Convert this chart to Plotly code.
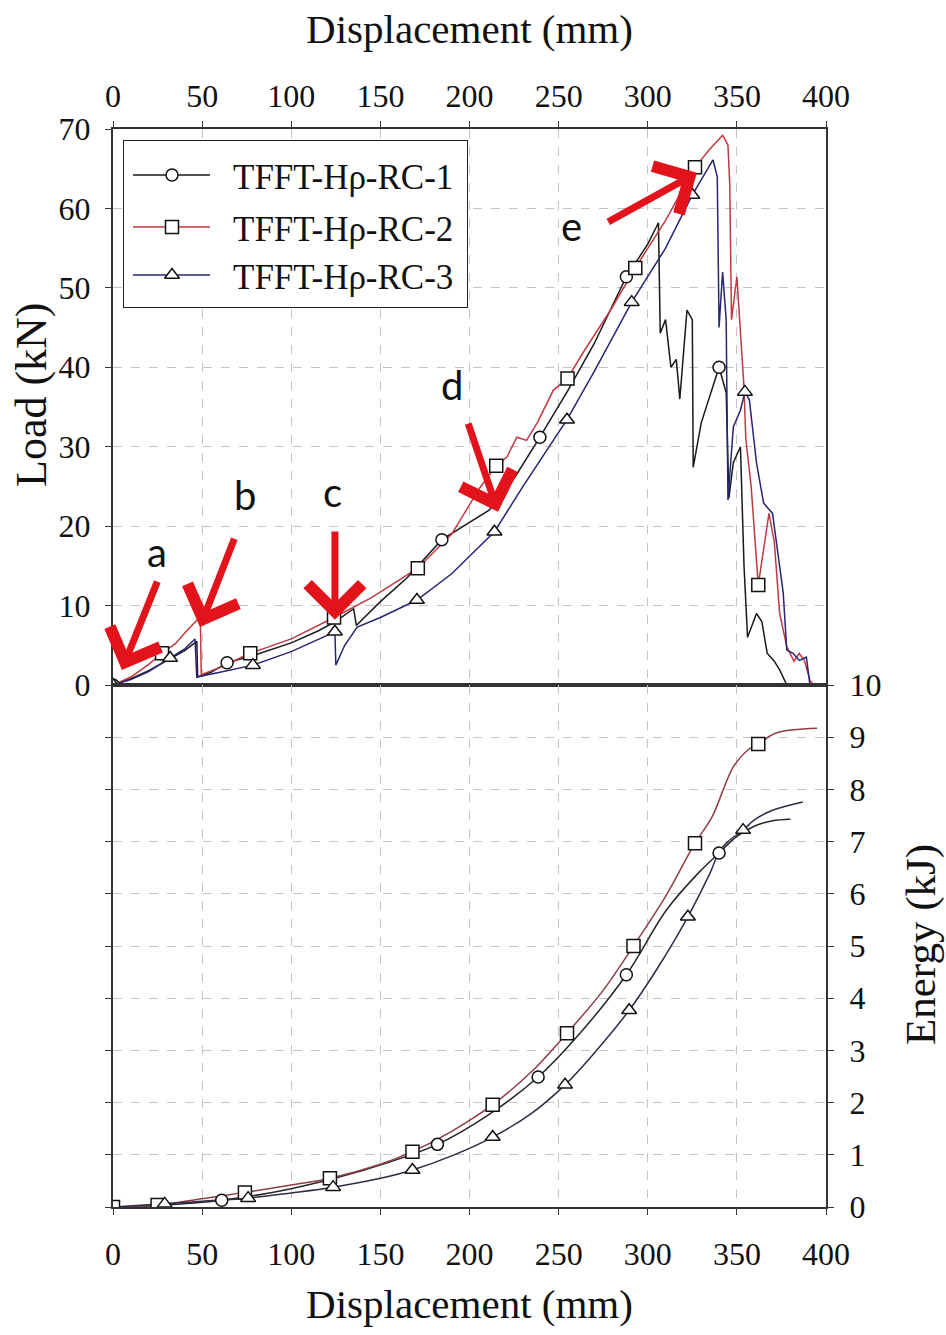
import plotly.graph_objects as go

# ---------------- Load–displacement curves (kN vs mm) ----------------
rc1_load_x = [0, 10, 20, 30, 40, 47, 47.5, 55, 64, 80, 100, 115, 125, 135, 136.5, 150, 165,
              184.5, 196, 211, 225, 239.5, 255, 270, 288, 300, 306, 307, 310, 313, 316, 318,
              322, 325, 325.5, 330, 340, 344, 345.5, 348, 352, 354, 356, 361, 364, 367, 371,
              374, 378]
rc1_load_y = [0, 0.8, 1.8, 3.0, 4.3, 5.5, 1.0, 1.6, 2.8, 3.8, 5.3, 6.8, 8.0, 9.6, 7.5, 10.5,
              13.5, 18.3, 19.9, 22.0, 26.0, 31.2, 37.0, 43.0, 51.4, 55.5, 58.2, 44.3, 46.0,
              40.0, 41.0, 36.0, 47.2, 46.0, 27.4, 33.0, 40.0, 36.8, 23.5, 28.0, 30.0, 15.0,
              6.0, 9.0, 8.0, 4.0, 3.0, 1.9, 0]

rc2_load_x = [0, 10, 20, 27.5, 35, 42, 49, 49.5, 60, 77, 100, 124, 145, 171, 190, 206, 215,
              221, 226.6, 232, 238, 247, 255, 263.6, 280, 293, 310, 326.5, 335, 342, 345,
              346, 347, 350, 353, 354, 355, 358, 362, 365, 368, 371, 374, 378, 382, 385, 388,
              391, 393]
rc2_load_y = [0, 1.0, 2.6, 4.0, 5.2, 7.0, 8.6, 1.3, 2.2, 4.0, 5.8, 8.5, 11.0, 14.7, 19.0,
              24.9, 27.6, 28.7, 31.2, 30.8, 33.0, 37.1, 38.6, 41.8, 47.5, 52.5, 58.5, 65.2,
              67.5, 69.2, 68.0, 63.0, 46.0, 51.4, 41.0, 37.5, 31.0, 25.0, 12.6, 17.0, 21.6,
              18.0, 9.0, 4.8, 3.0, 4.0, 3.0, 0.6, 0]

rc3_load_x = [0, 10, 20, 32, 40, 46, 47, 60, 78.5, 100, 124.5, 125, 130, 137, 150, 170.5,
              190, 214, 230, 254.7, 270, 291, 310, 325, 336.6, 339, 340, 342, 344, 345, 348,
              352, 354.5, 357, 361, 365, 370, 373, 376, 378, 381.5, 385, 389, 391]
rc3_load_y = [0, 0.7, 1.7, 3.4, 4.5, 5.8, 1.0, 1.6, 2.5, 4.2, 6.7, 2.5, 5.0, 7.3, 8.5, 10.7,
              14.0, 19.3, 25.0, 33.4, 39.5, 48.2, 55.0, 61.7, 66.1, 64.0, 45.0, 52.0, 46.0,
              23.3, 32.5, 34.6, 36.9, 35.9, 28.0, 22.9, 21.6, 16.6, 11.6, 4.4, 4.0, 3.1, 3.5,
              0]

# Marker positions on the load curves
rc1_load_mx = [0, 64, 184.5, 239.5, 288, 340]
rc1_load_my = [0, 2.8, 18.3, 31.2, 51.4, 40.0]
rc2_load_mx = [27.5, 77, 124, 171, 215, 255, 293, 326.5, 362]
rc2_load_my = [4.0, 4.0, 8.5, 14.7, 27.6, 38.6, 52.5, 65.2, 12.6]
rc3_load_mx = [0, 32, 78.5, 124.5, 170.5, 214, 254.7, 291, 325, 354.5]
rc3_load_my = [0, 3.4, 2.5, 6.7, 10.7, 19.3, 33.4, 48.2, 61.7, 36.9]

# ---------------- Energy–displacement curves (kJ vs mm) ----------------
rc1_en_x = [0, 25, 61, 100, 140, 182, 210, 238.5, 260, 288, 310.5, 329, 340, 350, 360, 370, 380]
rc1_en_y = [0, 0.03, 0.13, 0.35, 0.70, 1.20, 1.75, 2.49, 3.25, 4.45, 5.69, 6.42, 6.78, 7.10,
            7.30, 7.40, 7.43]
rc2_en_x = [0, 25, 50, 74, 100, 121.7, 150, 168, 190, 213, 235, 254.7, 275, 292, 310, 326.5,
            336, 348, 356, 362, 372, 395]
rc2_en_y = [0, 0.04, 0.16, 0.28, 0.42, 0.55, 0.82, 1.06, 1.45, 1.96, 2.60, 3.33, 4.15, 5.00,
            5.95, 6.97, 7.47, 8.43, 8.75, 8.87, 9.08, 9.17]
rc3_en_x = [0, 29, 50, 75.8, 100, 123.5, 150, 168, 190, 213, 235, 253.6, 270, 289.6, 305,
            322.5, 335, 340, 345, 353.5, 360, 370, 387]
rc3_en_y = [0, 0.06, 0.11, 0.17, 0.27, 0.38, 0.55, 0.71, 0.98, 1.34, 1.80, 2.34, 2.95, 3.77,
            4.55, 5.56, 6.40, 6.80, 7.00, 7.22, 7.42, 7.60, 7.76]

rc1_en_mx = [0, 61, 182, 238.5, 288, 340]
rc1_en_my = [0, 0.13, 1.20, 2.49, 4.45, 6.78]
rc2_en_mx = [0, 25, 74, 121.7, 168, 213, 254.7, 292, 326.5, 362]
rc2_en_my = [0, 0.04, 0.28, 0.55, 1.06, 1.96, 3.33, 5.00, 6.97, 8.87]
rc3_en_mx = [29, 75.8, 123.5, 168, 213, 253.6, 289.6, 322.5, 353.5]
rc3_en_my = [0.06, 0.17, 0.38, 0.71, 1.34, 2.34, 3.77, 5.56, 7.22]

# Failure-stage call-outs: letter, arrow tip (x, y), arrow tail (x, y), letter position
stage_labels = ["a", "b", "c", "d", "e"]
stage_tip = [(5.0, 1.9), (48.8, 7.3), (124.5, 8.2), (216, 21.8), (327.6, 64.5)]
stage_tail = [(25.2, 13.2), (68.4, 18.6), (124.5, 19.5), (199, 33.1), (277, 58.2)]
stage_text = [(24.7, 16.8), (74, 23.9), (123.4, 24.3), (190, 37.8), (257, 57.8)]

series_names = ["TFFT-H\u03c1-RC-1", "TFFT-H\u03c1-RC-2", "TFFT-H\u03c1-RC-3"]
load_colors = ["#1a1a1a", "#c23842", "#262674"]
energy_colors = ["#262626", "#8e3e46", "#2c2c48"]
series_symbols = ["circle", "square", "triangle-up"]
marker_sizes = [12, 13, 13]

SERIF = "Liberation Serif"
fig = go.Figure()

load_lines = [(rc1_load_x, rc1_load_y), (rc2_load_x, rc2_load_y), (rc3_load_x, rc3_load_y)]
load_marks = [(rc1_load_mx, rc1_load_my), (rc2_load_mx, rc2_load_my), (rc3_load_mx, rc3_load_my)]
en_lines = [(rc1_en_x, rc1_en_y), (rc2_en_x, rc2_en_y), (rc3_en_x, rc3_en_y)]
en_marks = [(rc1_en_mx, rc1_en_my), (rc2_en_mx, rc2_en_my), (rc3_en_mx, rc3_en_my)]


def marker_style(i):
    return dict(symbol=series_symbols[i], size=marker_sizes[i], color="white",
                line=dict(color="#111111", width=1.5))


for i in range(3):
    fig.add_trace(go.Scatter(x=load_lines[i][0], y=load_lines[i][1], mode="lines",
                             line=dict(color=load_colors[i], width=1.5),
                             showlegend=False, xaxis="x", yaxis="y"))
    fig.add_trace(go.Scatter(x=en_lines[i][0], y=en_lines[i][1], mode="lines",
                             line=dict(color=energy_colors[i], width=1.5, shape="spline"),
                             showlegend=False, xaxis="x2", yaxis="y2"))

for i in range(3):
    fig.add_trace(go.Scatter(x=load_marks[i][0], y=load_marks[i][1], mode="markers",
                             marker=marker_style(i), showlegend=False, xaxis="x", yaxis="y"))
    fig.add_trace(go.Scatter(x=en_marks[i][0], y=en_marks[i][1], mode="markers",
                             marker=marker_style(i), showlegend=False, xaxis="x2", yaxis="y2"))

# Legend box drawn on its own small pixel-scaled axes (x: 0-345, y: 0-168 top-down)
legend_rows = [35, 87, 135]
for i in range(3):
    fig.add_trace(go.Scatter(x=[10, 87], y=[legend_rows[i], legend_rows[i]], mode="lines",
                             line=dict(color=load_colors[i], width=1.5),
                             showlegend=False, xaxis="x3", yaxis="y3", hoverinfo="skip"))
    fig.add_trace(go.Scatter(x=[49], y=[legend_rows[i]], mode="markers",
                             marker=marker_style(i), showlegend=False,
                             xaxis="x3", yaxis="y3", hoverinfo="skip"))

annotations = []
for i in range(3):
    annotations.append(dict(x=108, y=legend_rows[i] + 2, xref="x3", yref="y3",
                            text=series_names[i], showarrow=False, xanchor="left",
                            yanchor="middle",
                            font=dict(family=SERIF, size=35, color="#111111")))

for lab, tip, tail, txt in zip(stage_labels, stage_tip, stage_tail, stage_text):
    annotations.append(dict(x=tip[0], y=tip[1], ax=tail[0], ay=tail[1], xref="x", yref="y",
                            axref="x", ayref="y", text="", showarrow=True, arrowhead=4,
                            arrowsize=1.5, arrowwidth=7, arrowcolor="#e3131c", standoff=0))
    annotations.append(dict(x=txt[0], y=txt[1], xref="x", yref="y", text=lab, showarrow=False,
                            font=dict(family="Lato", size=40, color="#111111")))

# y-axis titles
annotations.append(dict(x=31 / 946, y=1 - 395 / 1335, xref="paper", yref="paper",
                        text="Load (kN)", textangle=-90, showarrow=False,
                        xanchor="center", yanchor="middle",
                        font=dict(family=SERIF, size=44, color="#111111")))
annotations.append(dict(x=921 / 946, y=1 - 945 / 1335, xref="paper", yref="paper",
                        text="Energy (kJ)", textangle=-90, showarrow=False,
                        xanchor="center", yanchor="middle",
                        font=dict(family=SERIF, size=43, color="#111111")))

XDOM = [113 / 946, 826 / 946]
TOP_DOM = [1 - 685 / 1335, 1 - 129 / 1335]
BOT_DOM = [1 - 1207 / 1335, 1 - 685 / 1335]
LEG_X = [123 / 946, 468 / 946]
LEG_Y = [1 - 308 / 1335, 1 - 140 / 1335]

axis_common = dict(showline=True, linecolor="#333333", linewidth=2, showgrid=True,
                   gridcolor="#c4c4c4", griddash="dash", gridwidth=1, zeroline=False,
                   ticks="outside", ticklen=6, tickcolor="#333333",
                   tickfont=dict(family=SERIF, size=32, color="#111111"))
title_font = dict(family=SERIF, size=41, color="#111111")

shapes = [
    dict(type="rect", xref="x3", yref="y3", x0=0, x1=345, y0=0, y1=168, layer="below",
         fillcolor="white", line=dict(width=0)),
    dict(type="rect", xref="x3", yref="y3", x0=0, x1=345, y0=0, y1=168, layer="above",
         fillcolor="rgba(0,0,0,0)", line=dict(color="#222222", width=2)),
]

fig.update_layout(
    width=946, height=1335, autosize=False, template="none",
    margin=dict(l=0, r=0, t=0, b=0),
    paper_bgcolor="white", plot_bgcolor="white", showlegend=False,
    xaxis=dict(domain=XDOM, anchor="y", side="top", range=[0, 400], dtick=50, tick0=0,
               mirror=True, ticklabelstandoff=1,
               title=dict(text="Displacement (mm)", font=title_font, standoff=22),
               **axis_common),
    yaxis=dict(domain=TOP_DOM, anchor="x", range=[0, 70], dtick=10, tick0=0, mirror=True,
               ticklabelstandoff=8, **axis_common),
    xaxis2=dict(domain=XDOM, anchor="y2", side="bottom", range=[0, 400], dtick=50, tick0=0,
                mirror=True, ticklabelstandoff=12,
                title=dict(text="Displacement (mm)", font=title_font, standoff=18),
                **axis_common),
    yaxis2=dict(domain=BOT_DOM, anchor="x2", side="right", range=[0, 10], dtick=1, tick0=0,
                mirror="ticks", ticklabelstandoff=9, **axis_common),
    xaxis3=dict(domain=LEG_X, anchor="y3", range=[0, 345], visible=False, fixedrange=True),
    yaxis3=dict(domain=LEG_Y, anchor="x3", range=[168, 0], visible=False, fixedrange=True),
    shapes=shapes,
    annotations=annotations,
)

fig.write_html("out.html")
